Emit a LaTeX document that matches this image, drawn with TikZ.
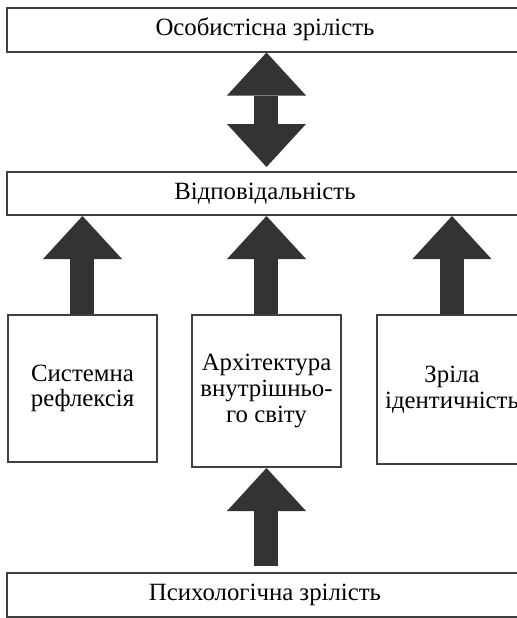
\documentclass[tikz,border=0pt]{standalone}
\usepackage{fontspec}
\setmainfont{Liberation Serif}
\usetikzlibrary{arrows.meta}

\definecolor{framegray}{HTML}{404040}
\definecolor{arrowgray}{HTML}{333333}

\begin{document}
\begin{tikzpicture}[
      x=0.5pt, y=-0.5pt,
      every node/.style={font=\fontsize{12.4}{12.8}\selectfont},
      wide/.style={draw=framegray, line width=1pt, minimum width=258pt, minimum height=22pt, inner sep=0pt},
      factor/.style={draw=framegray, line width=1pt, minimum width=74.5pt, align=center, inner sep=0pt},
      bigarrow/.style={draw=arrowgray, line width=12pt, -{Triangle[width=39.5pt, length=21.5pt, line width=0pt]}}
    ]
    \useasboundingbox (0,0) rectangle (517,618);
    \clip (0,0) rectangle (517,618);

    % levels
    \node[wide] (personal) at (265,29.5) {Особистісна зрілість};
    \node[wide, minimum height=21.5pt] (resp) at (265,193.5) {Відповідальність};
    \node[wide] (psych) at (265,595) {Психологічна зрілість};

    % components
    \node[factor, minimum height=73.5pt] (reflex) at (82.5,388.5) {Системна\\рефлексія};
    \node[factor, minimum height=76pt] (arch) at (266.5,391) {Архітектура\\внутрішньо-\\го світу};
    \node[factor, minimum height=74.5pt] (ident) at (452,389.5) {Зріла\\ідентичність};

    % block arrows
    \draw[bigarrow, {Triangle[width=39.5pt, length=21.5pt, line width=0pt]}-{Triangle[width=39.5pt, length=21.5pt, line width=0pt]}, shorten >=2pt]
      (arch.north |- personal.south) -- (arch.north |- resp.north);
    \draw[bigarrow] (reflex.north) -- (reflex.north |- resp.south);
    \draw[bigarrow] (arch.north) -- (arch.north |- resp.south);
    \draw[bigarrow] (ident.north) -- (ident.north |- resp.south);
    \draw[bigarrow, shorten <=3pt] (arch.south |- psych.north) -- (arch.south);
\end{tikzpicture}
\end{document}
